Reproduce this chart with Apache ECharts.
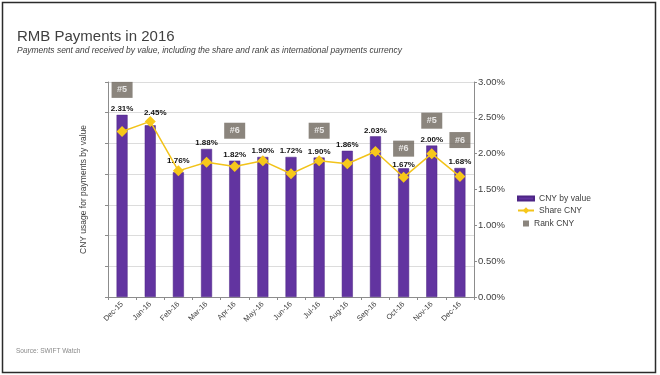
<!DOCTYPE html>
<html>
<head>
<meta charset="utf-8">
<script src="https://cdn.jsdelivr.net/npm/echarts@6/dist/echarts.min.js"></script>
<style>
html,body{margin:0;padding:0;background:#fff;}
#chart{width:660px;height:375px;}
</style>
</head>
<body>
<div id="chart"></div>
<script>
var categories = ['Dec-15','Jan-16','Feb-16','Mar-16','Apr-16','May-16','Jun-16','Jul-16','Aug-16','Sep-16','Oct-16','Nov-16','Dec-16'];
var cnyValue = [5.93, 5.59, 4.06, 4.82, 4.44, 4.56, 4.56, 4.54, 4.76, 5.23, 4.19, 4.93, 4.20];
var shareCny = [2.31, 2.45, 1.76, 1.88, 1.82, 1.90, 1.72, 1.90, 1.86, 2.03, 1.67, 2.00, 1.68];
var rankCny = [5, null, null, null, 6, null, null, 5, null, null, 6, 5, 6];
var rankLevel = [2.89, null, null, null, 2.32, null, null, 2.32, null, null, 2.07, 2.46, 2.19];
var rightTicks = ['0.00%','0.50%','1.00%','1.50%','2.00%','2.50%','3.00%'];

var labelShift = {1: [5, -7], 2: [0, -6], 10: [0, 2]};

var chart = echarts.init(document.getElementById('chart'));
var FONT = 'Liberation Sans, Arial, sans-serif';

var barData = cnyValue.map(function (v, i) {
  var d = {value: v};
  if (labelShift[i]) d.label = {offset: labelShift[i]};
  return d;
});
var rankData = rankLevel.map(function (v, i) {
  return v == null ? null : {value: v, rank: rankCny[i]};
});

chart.setOption({
  animation: false,
  textStyle: {fontFamily: FONT},
  title: [
    {text: 'RMB Payments in 2016', left: 12, top: 24,
     textStyle: {fontSize: 15, fontWeight: 'normal', color: '#3f3f3f', fontFamily: FONT}},
    {text: 'Source: SWIFT Watch', left: 11, top: 343,
     textStyle: {fontSize: 6.5, fontWeight: 'normal', color: '#8a8a8a', fontFamily: FONT}}
  ],
  graphic: [
    {type: 'rect', silent: true,
     shape: {x: 2.5, y: 2.5, width: 653, height: 370},
     style: {fill: 'none', stroke: '#2b2b2b', lineWidth: 1.5}},
    {type: 'text', silent: true, x: 17, y: 45, scaleX: 0.89,
     style: {text: 'Payments sent and received by value, including the share and rank as international payments currency',
       font: 'italic 9.5px Liberation Sans, Arial, sans-serif', fill: '#404040', verticalAlign: 'top', align: 'left'}}
  ],
  legend: [
    {data: ['CNY by value'], orient: 'vertical', left: 512, top: 189,
     itemWidth: 16, itemHeight: 4, icon: 'rect',
     textStyle: {fontSize: 8.5, color: '#404040'}},
    {data: ['Share CNY'], orient: 'vertical', left: 512, top: 201,
     itemWidth: 16, itemHeight: 8,
     textStyle: {fontSize: 8.5, color: '#404040'}},
    {data: ['Rank CNY'], orient: 'vertical', left: 518, top: 214,
     itemWidth: 6, itemHeight: 6, icon: 'rect',
     textStyle: {fontSize: 8.5, color: '#404040'}}
  ],
  grid: {left: 108, right: 186, top: 82, bottom: 78},
  xAxis: {
    type: 'category', data: categories,
    axisLine: {lineStyle: {color: '#8c8c8c'}},
    axisTick: {show: true, length: 3, lineStyle: {color: '#8c8c8c'}},
    axisLabel: {rotate: 45, interval: 0, fontSize: 7.5, color: '#404040', margin: 6}
  },
  yAxis: [
    {type: 'value', min: 0, max: 7, interval: 1,
     name: 'CNY usage for payments by value', nameLocation: 'middle', nameGap: 20,
     nameTextStyle: {fontSize: 8.5, color: '#404040'},
     axisLine: {show: true, lineStyle: {color: '#8c8c8c'}},
     axisTick: {show: true, length: 3, lineStyle: {color: '#8c8c8c'}},
     axisLabel: {show: false},
     splitLine: {lineStyle: {color: '#dcdcdc'}}},
    {type: 'value', min: 0, max: 3, interval: 0.5, position: 'right',
     axisLine: {show: true, lineStyle: {color: '#8c8c8c'}},
     axisTick: {show: true, length: 3, lineStyle: {color: '#8c8c8c'}},
     axisLabel: {fontSize: 9.5, color: '#404040', margin: 4,
       formatter: function (v) { return rightTicks[Math.round(v / 0.5)]; }},
     splitLine: {show: false}}
  ],
  series: [
    {name: 'CNY by value', type: 'bar', data: barData, barWidth: 11,
     itemStyle: {color: '#6234a0', borderColor: '#4d2585', borderWidth: 0.5},
     label: {show: true, position: 'top', distance: 2, fontSize: 8, fontWeight: 'bold', color: '#111',
       formatter: function (p) { return shareCny[p.dataIndex].toFixed(2) + '%'; }},
     z: 2},
    {name: 'Share CNY', type: 'line', yAxisIndex: 1, data: shareCny,
     symbol: 'diamond', symbolSize: 11, showSymbol: true,
     lineStyle: {color: '#f2c31a', width: 1.5},
     itemStyle: {color: '#f7c81a'},
     z: 3},
    {name: 'Rank CNY', type: 'scatter', yAxisIndex: 1, data: rankData,
     symbol: 'rect', symbolSize: [21, 16],
     itemStyle: {color: '#6e665d'},
     label: {show: true, position: 'inside', color: '#fff', fontSize: 9, fontWeight: 'bold',
       formatter: function (p) { return '#' + rankCny[p.dataIndex]; }},
     z: 4}
  ]
});
</script>
</body>
</html>
